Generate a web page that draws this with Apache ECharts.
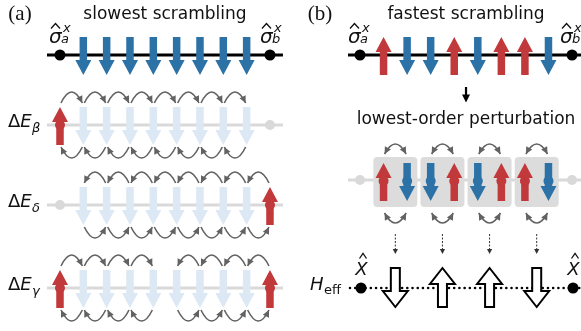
<!DOCTYPE html>
<html>
<head>
<meta charset="utf-8">
<script src="https://cdn.jsdelivr.net/npm/echarts@6/dist/echarts.min.js"></script>
<style>
  html, body { margin: 0; padding: 0; background: #fff; }
  #chart { width: 581px; height: 331px; }
</style>
</head>
<body>
<div id="chart"></div>
<script>
// ---- data -------------------------------------------------------------
// Sites 0 and 9 are the probe sites; sites 1..8 carry the spins (+1 up, -1 down).
const spinSites = [1, 2, 3, 4, 5, 6, 7, 8];
const probeSites = [0, 9];
const slowestChain = [-1, -1, -1, -1, -1, -1, -1, -1];
const fastestChain = [1, -1, -1, 1, -1, 1, 1, -1];

// Excited configurations of the slowest chain
const rowSymbols = ['β', 'δ', 'γ'];
const rowFlippedProbes = [[0], [9], [0, 9]];
// Hopping paths per row: [firstSite, lastSite, direction of the upper arcs]
const rowHops = [
  [[0, 8, 'right']],
  [[1, 9, 'left']],
  [[0, 4, 'right'], [5, 9, 'left']]
];

// Dimer pairs used in the lowest-order perturbation, and the effective spins they produce
const dimerPairs = [[1, 2], [3, 4], [5, 6], [7, 8]];
const effectiveSpins = [-1, 1, 1, -1];

const titles = ['slowest scrambling', 'fastest scrambling'];
const panelTags = ['(a)', '(b)'];
const perturbationText = 'lowest-order perturbation';

// ---- styling / layout ---------------------------------------------------
const RED = '#c1393b', BLUE = '#2c72a7', PALE = '#dce8f4', GREY = '#d9d9d9',
      BOX = '#dcdcdc', ARC = '#626262', INK = '#111';
const SANS = '"DejaVu Sans", sans-serif';
const SERIF = '"Liberation Serif", "DejaVu Serif", serif';
const ROW_Y_A = [125, 205, 288];  // vertical positions of the excited rows (px on the y axis)
const CHAIN_Y = 55, DIMER_Y = 180, EFF_Y = 288;

// ---- drawing helpers ----------------------------------------------------
function spinArrow(cx, cy, s, fill) {
  const L = 38, sw = 7.5, hw = 16, hl = 15;
  const tip = cy - s * L / 2, base = cy + s * L / 2, hb = tip + s * hl;
  return { type: 'polygon', shape: { points: [
    [cx - sw / 2, base], [cx - sw / 2, hb], [cx - hw / 2, hb], [cx, tip],
    [cx + hw / 2, hb], [cx + sw / 2, hb], [cx + sw / 2, base]] },
    style: { fill: fill } };
}
function hollowArrow(cx, cy, s) {
  const L = 39, sw = 9, hw = 25, hl = 16;
  const tip = cy - s * L / 2, base = cy + s * L / 2, hb = tip + s * hl;
  return { type: 'polygon', shape: { points: [
    [cx - sw / 2, base], [cx - sw / 2, hb], [cx - hw / 2, hb], [cx, tip],
    [cx + hw / 2, hb], [cx + sw / 2, hb], [cx + sw / 2, base]] },
    style: { fill: '#fff', stroke: '#000', lineWidth: 2, lineJoin: 'miter' } };
}
function seg(x1, y1, x2, y2, style) {
  return { type: 'line', shape: { x1: x1, y1: y1, x2: x2, y2: y2 }, style: style };
}
function dot(x, y, r, fill) {
  return { type: 'circle', shape: { cx: x, cy: y, r: r }, style: { fill: fill } };
}
function txt(x, y, text, font, align, fill) {
  return { type: 'text', x: x, y: y,
    style: { text: text, font: font, fill: fill || INK, align: align || 'left', verticalAlign: 'middle' } };
}
function hat(cx, cy, w) {
  const h = w || 4.5;
  return { type: 'polyline', shape: { points: [[cx - h, cy + 2.5], [cx, cy - 2.5], [cx + h, cy + 2.5]] },
    style: { stroke: INK, lineWidth: 1.3, fill: 'none' } };
}
function headAt(tx, ty, dx, dy, L, W, color) {
  const n = Math.hypot(dx, dy); dx /= n; dy /= n;
  const bx = tx - dx * L, by = ty - dy * L;
  return { type: 'polygon', shape: { points: [[tx, ty], [bx - dy * W, by + dx * W], [bx + dy * W, by - dx * W]] },
    style: { fill: color } };
}
// Curved hop between two neighbouring sites; bulge < 0 bows upward
function hop(x0, x1, yEnd, bulge, headEnd, headStart) {
  const cx = (x0 + x1) / 2, cy = yEnd + 2 * bulge;
  const out = [{ type: 'path', shape: { pathData: 'M' + x0 + ',' + yEnd + ' Q' + cx + ',' + cy + ' ' + x1 + ',' + yEnd },
    style: { stroke: ARC, lineWidth: 1.6, fill: 'none' } }];
  if (headEnd) out.push(headAt(x1, yEnd, x1 - cx, yEnd - cy, 7, 3.4, ARC));
  if (headStart) out.push(headAt(x0, yEnd, x0 - cx, yEnd - cy, 7, 3.4, ARC));
  return out;
}
// Operator label  sigma-hat with subscript and superscript x
function sigmaLabel(left, sub) {
  return [
    txt(left, 37.5, 'σ', 'italic 20px ' + SANS),
    hat(left + 6.5, 26),
    txt(left + 14, 28.5, 'x', 'italic 13px ' + SANS),
    txt(left + 12, 40, sub, 'italic 13px ' + SANS)
  ];
}

// ---- panel (a) ------------------------------------------------------------
function renderSlowest(params, api) {
  const X = i => api.coord([i, 0])[0];
  const Y = v => api.coord([0, v])[1];
  const kids = [];
  const x0 = X(probeSites[0]), x9 = X(probeSites[1]);

  kids.push(txt(x0 - 40, Y(14), panelTags[0], '21px ' + SERIF, 'center'));
  kids.push(txt(X(4.5), Y(15), titles[0], '17px ' + SANS, 'center'));

  // reference chain
  const cy = Y(CHAIN_Y);
  kids.push(seg(x0 - 13, cy, x9 + 13, cy, { stroke: '#000', lineWidth: 3 }));
  probeSites.forEach(p => kids.push(dot(X(p), cy, 5.5, '#000')));
  spinSites.forEach((s, k) => kids.push(spinArrow(X(s), Y(CHAIN_Y + 1), slowestChain[k], BLUE)));
  kids.push.apply(kids, sigmaLabel(x0 - 11, 'a'));
  kids.push.apply(kids, sigmaLabel(x9 - 10, 'b'));

  // excited rows
  rowSymbols.forEach((sym, r) => {
    const y = Y(ROW_Y_A[r]);
    kids.push(txt(x0 - 52, y - 3, '{d|Δ}{e|E}', '', 'left'));
    kids[kids.length - 1].style.rich = {
      d: { font: '18px ' + SANS, fill: INK },
      e: { font: 'italic 18px ' + SANS, fill: INK }
    };
    kids.push(txt(x0 - 28, y + 4, sym, 'italic 13px ' + SANS));
    kids.push(seg(x0 - 13, y, x9 + 13, y, { stroke: GREY, lineWidth: 3 }));
    probeSites.forEach(p => {
      if (rowFlippedProbes[r].indexOf(p) < 0) kids.push(dot(X(p), y, 5, GREY));
    });
    spinSites.forEach((s, k) => kids.push(spinArrow(X(s), y + 1, slowestChain[k], PALE)));
    rowFlippedProbes[r].forEach(p => {
      kids.push(spinArrow(X(p), y + 1, 1, RED));
      kids.push(dot(X(p), y, 5, RED));
    });
    rowHops[r].forEach(([a, b, dir]) => {
      for (let i = a; i < b; i++) {
        const xa = X(i) + 1, xb = X(i + 1) - 1;
        kids.push.apply(kids, hop(xa, xb, y - 22, -11, dir === 'right', dir === 'left'));
        kids.push.apply(kids, hop(xa, xb, y + 22, 11, dir === 'left', dir === 'right'));
      }
    });
  });
  return { type: 'group', children: kids };
}

// ---- panel (b) ------------------------------------------------------------
function renderFastest(params, api) {
  const X = i => api.coord([i, 0])[0];
  const Y = v => api.coord([0, v])[1];
  const kids = [];
  const x0 = X(probeSites[0]), x9 = X(probeSites[1]);

  kids.push(txt(x0 - 40, Y(14), panelTags[1], '21px ' + SERIF, 'center'));
  kids.push(txt(X(4.5), Y(15), titles[1], '17px ' + SANS, 'center'));

  // reference chain
  const cy = Y(CHAIN_Y);
  kids.push(seg(x0 - 12, cy, x9 + 9, cy, { stroke: '#000', lineWidth: 3 }));
  probeSites.forEach(p => kids.push(dot(X(p), cy, 5.5, '#000')));
  spinSites.forEach((s, k) => kids.push(spinArrow(X(s), Y(CHAIN_Y + 1), fastestChain[k], fastestChain[k] > 0 ? RED : BLUE)));
  kids.push.apply(kids, sigmaLabel(x0 - 12, 'a'));
  kids.push.apply(kids, sigmaLabel(x9 - 12, 'b'));

  // small arrow and caption
  const xm = X(4.5);
  kids.push(seg(xm, Y(87), xm, Y(96), { stroke: '#000', lineWidth: 2.2 }));
  kids.push(headAt(xm, Y(102.5), 0, 1, 8, 4, '#000'));
  kids.push(txt(xm, Y(120), perturbationText, '17px ' + SANS, 'center'));

  // dimer row
  const dy = Y(DIMER_Y);
  kids.push(seg(x0 - 12, dy, x9 + 9, dy, { stroke: GREY, lineWidth: 3 }));
  probeSites.forEach(p => kids.push(dot(X(p), dy, 5, GREY)));
  dimerPairs.forEach(([a, b]) => {
    const xc = (X(a) + X(b)) / 2;
    kids.push({ type: 'rect', shape: { x: xc - 22, y: dy - 23, width: 44, height: 50, r: 4 }, style: { fill: BOX } });
  });
  spinSites.forEach((s, k) => {
    const c = fastestChain[k] > 0 ? RED : BLUE;
    kids.push(spinArrow(X(s), dy + 2, fastestChain[k], c));
    kids.push(dot(X(s), dy + 1, 5, c));
  });
  dimerPairs.forEach(([a, b]) => {
    const xa = X(a) + 1, xb = X(b) - 1;
    kids.push.apply(kids, hop(xa, xb, dy - 26, -10, true, true));
    kids.push.apply(kids, hop(xa, xb, dy + 33, 10, true, true));
  });

  // effective Hamiltonian row
  const ey = Y(EFF_Y);
  kids.push(seg(x0 - 10, ey, x9 + 9, ey, { stroke: '#000', lineWidth: 2.6, lineDash: [0.01, 5.2], lineCap: 'round' }));
  probeSites.forEach(p => kids.push(dot(X(p) + 1, ey, 5.5, '#000')));
  dimerPairs.forEach(([a, b], k) => {
    const xc = (X(a) + X(b)) / 2;
    kids.push(seg(xc, Y(234), xc, Y(249), { stroke: '#333', lineWidth: 1, lineDash: [2, 1.5] }));
    kids.push(headAt(xc, Y(254), 0, 1, 5, 2.6, '#333'));
    kids.push(hollowArrow(xc, Y(287.5), effectiveSpins[k]));
  });
  probeSites.forEach(p => {
    kids.push(txt(X(p) + 1.5, Y(270), 'X', 'italic 18px ' + SANS, 'center'));
    kids.push(hat(X(p) + 3, Y(256), 3.5));
  });
  kids.push(txt(x0 - 50, Y(285), 'H', 'italic 18px ' + SANS));
  kids.push(txt(x0 - 36, Y(291), 'eff', '13px ' + SANS));
  return { type: 'group', children: kids };
}

// ---- chart --------------------------------------------------------------
const chart = echarts.init(document.getElementById('chart'), null, { renderer: 'canvas' });
const hiddenX = (min, max, gridIndex) => ({ type: 'value', gridIndex, min, max, show: false, splitLine: { show: false } });
const hiddenY = gridIndex => ({ type: 'value', gridIndex, min: 0, max: 331, inverse: true, show: false, splitLine: { show: false } });
chart.setOption({
  animation: false,
  backgroundColor: '#fff',
  grid: [
    { left: 0, top: 0, width: 290, height: 331 },
    { left: 290, top: 0, width: 291, height: 331 }
  ],
  xAxis: [hiddenX(-2.5714, 9.8583, 0), hiddenX(-2.9711, 9.3803, 1)],
  yAxis: [hiddenY(0), hiddenY(1)],
  series: [
    { type: 'custom', xAxisIndex: 0, yAxisIndex: 0, data: [[0, 0]], renderItem: renderSlowest, silent: true },
    { type: 'custom', xAxisIndex: 1, yAxisIndex: 1, data: [[0, 0]], renderItem: renderFastest, silent: true }
  ]
});
</script>
</body>
</html>
